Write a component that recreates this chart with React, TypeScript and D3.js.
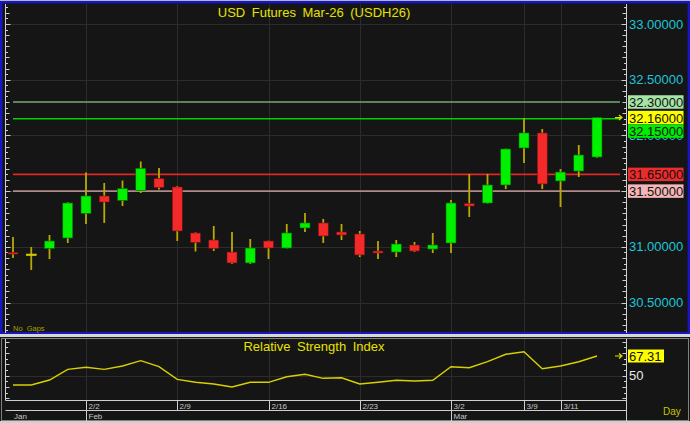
import React, { useEffect, useRef } from 'react'
import * as d3 from 'd3'

// trading days shown on the chart
const dates = [
    '1/27', '1/28', '1/29', '1/30',
    '2/2', '2/3', '2/4', '2/5', '2/6',
    '2/9', '2/10', '2/11', '2/12', '2/13',
    '2/16', '2/17', '2/18', '2/19', '2/20',
    '2/23', '2/24', '2/25', '2/26', '2/27',
    '3/2', '3/3', '3/4', '3/5',
    '3/9', '3/10', '3/11', '3/12', '3/13',
]

const opens = [30.949, 30.935, 30.985, 31.079, 31.299, 31.456, 31.416, 31.505, 31.613, 31.537, 31.124, 31.061, 30.953, 30.855, 31.052, 30.989, 31.169, 31.214, 31.133, 31.115, 30.962, 30.953, 31.016, 30.980, 31.034, 31.389, 31.393, 31.555, 31.887, 32.022, 31.591, 31.680, 31.806]
const highs = [31.088, 30.998, 31.106, 31.400, 31.667, 31.573, 31.595, 31.766, 31.707, 31.546, 31.130, 31.187, 31.133, 31.070, 31.056, 31.205, 31.303, 31.250, 31.205, 31.142, 31.052, 31.061, 31.043, 31.124, 31.420, 31.654, 31.654, 31.882, 32.156, 32.057, 31.698, 31.914, 32.160]
const lows = [30.900, 30.792, 30.890, 31.034, 31.205, 31.214, 31.366, 31.483, 31.514, 31.052, 30.958, 30.962, 30.846, 30.846, 30.890, 30.985, 31.133, 31.034, 31.061, 30.908, 30.890, 30.908, 30.953, 30.944, 30.944, 31.268, 31.389, 31.519, 31.752, 31.519, 31.357, 31.627, 31.800]
const closes = [30.935, 30.935, 31.052, 31.393, 31.456, 31.402, 31.523, 31.705, 31.532, 31.142, 31.039, 30.985, 30.855, 30.989, 30.989, 31.124, 31.214, 31.097, 31.106, 30.927, 30.944, 31.025, 30.962, 31.016, 31.393, 31.366, 31.555, 31.878, 32.022, 31.564, 31.671, 31.824, 32.160]

const rsiValues = [41.8, 41.8, 46.2, 55.6, 57.4, 55.6, 58.5, 63.2, 57.9, 46.8, 44.2, 42.7, 40.1, 44.2, 44.2, 49.1, 51.2, 47.7, 48.2, 42.7, 44.2, 46.0, 45.3, 46.0, 57.9, 57.0, 62.3, 68.8, 71.1, 56.2, 58.5, 62.3, 67.31]

const dateTicks = ['2/2', '2/9', '2/16', '2/23', '3/2', '3/9', '3/11']
const monthLabels = ['Jan', 'Feb', 'Mar']
const monthStarts = ['1/27', '2/2', '3/2']

const priceLabels = [33, 32.5, 32, 31.5, 31, 30.5]
const levelValues = [32.3, 32.15, 31.65, 31.5]
const levelLineColors = ['#76a876', '#00d400', '#e02626', '#b08a8a']
const levelBoxColors = ['#a6e4a6', '#00ec00', '#ec2c2c', '#f4b6b6']
const lastPrice = 32.16
const lastRsi = 67.31

const W = 690
const H = 423
const FONT = '"Liberation Sans", Arial, sans-serif'

function App() {
    const ref = useRef<SVGSVGElement>(null)

    useEffect(() => {
        const svg = d3.select(ref.current)
        svg.selectAll('*').remove()

        const x = d3.scalePoint<string>().domain(dates).range([13, 597])
        const y = d3.scaleLinear().domain([30.5, 33]).range([302.5, 24])
        const yr = d3.scaleLinear().domain([50, lastRsi]).range([375.7, 356])

        const left = 5.5, right = 626.5
        const mainTop = 4, mainBottom = 333
        const rsiTop = 338, rsiBottom = 400.5

        // background & frames
        svg.append('rect').attr('width', W).attr('height', H).attr('fill', '#151515')
        svg.append('rect').attr('x', 0).attr('y', 0).attr('width', W).attr('height', 1.5).attr('fill', '#b4b4d4')
        svg.append('rect').attr('x', 1.2).attr('y', 2.2).attr('width', W - 2.4).attr('height', 331)
            .attr('fill', 'none').attr('stroke', '#1616c4').attr('stroke-width', 2.4)
        svg.append('rect').attr('x', 0).attr('y', 334).attr('width', W).attr('height', 3).attr('fill', '#d6d6d6')
        svg.append('rect').attr('x', 1.5).attr('y', 338.5).attr('width', W - 3).attr('height', 82)
            .attr('fill', 'none').attr('stroke', '#808080')
        svg.append('rect').attr('x', 0).attr('y', 421).attr('width', W).attr('height', 2).attr('fill', '#cfcfcf')

        const g = svg.append('g')

        // grid
        const grid = g.append('g').attr('stroke', '#2c2c2c').attr('stroke-width', 1)
        priceLabels.forEach(p => {
            grid.append('line').attr('x1', left).attr('x2', right)
                .attr('y1', Math.round(y(p)) + 0.5).attr('y2', Math.round(y(p)) + 0.5)
        })
        grid.append('line').attr('x1', left).attr('x2', right)
            .attr('y1', Math.round(yr(50)) + 0.5).attr('y2', Math.round(yr(50)) + 0.5)
        dateTicks.forEach(d => {
            const xx = Math.round(x(d)!) + 0.5
            grid.append('line').attr('x1', xx).attr('x2', xx).attr('y1', mainTop).attr('y2', mainBottom)
            grid.append('line').attr('x1', xx).attr('x2', xx).attr('y1', rsiTop + 1).attr('y2', rsiBottom)
        })

        // axes lines
        const ax = g.append('g').attr('stroke', '#cfcfcf').attr('stroke-width', 1)
        ax.append('line').attr('x1', left).attr('x2', left).attr('y1', mainTop).attr('y2', mainBottom)
        ax.append('line').attr('x1', right).attr('x2', right).attr('y1', mainTop).attr('y2', mainBottom)
        ax.append('line').attr('x1', left).attr('x2', left).attr('y1', rsiTop + 1).attr('y2', rsiBottom)
        ax.append('line').attr('x1', right).attr('x2', right).attr('y1', rsiTop + 1).attr('y2', 421)
        ax.append('line').attr('x1', left).attr('x2', right).attr('y1', rsiBottom).attr('y2', rsiBottom)
        ax.append('line').attr('x1', left).attr('x2', right).attr('y1', 410.5).attr('y2', 410.5)

        // price ticks every 0.05
        d3.range(0, 80).map(k => 30 + k * 0.05).forEach(v => {
            const yy = Math.round(y(v)) + 0.5
            if (yy < mainTop + 2 || yy > mainBottom - 2) return
            const k = Math.round(v * 100)
            const len = k % 50 === 0 ? 5 : k % 10 === 0 ? 4 : 2.5
            ax.append('line').attr('x1', left).attr('x2', left + len).attr('y1', yy).attr('y2', yy)
            ax.append('line').attr('x1', right).attr('x2', right - len).attr('y1', yy).attr('y2', yy)
        })
        // rsi ticks every 5
        d3.range(20, 95, 5).forEach(v => {
            const yy = Math.round(yr(v)) + 0.5
            if (yy < rsiTop + 3 || yy > rsiBottom - 2) return
            const len = v % 10 === 0 ? 4 : 2.5
            ax.append('line').attr('x1', left).attr('x2', left + len).attr('y1', yy).attr('y2', yy)
            ax.append('line').attr('x1', right).attr('x2', right - len).attr('y1', yy).attr('y2', yy)
        })

        // level lines
        levelValues.forEach((v, i) => {
            g.append('line').attr('x1', 13).attr('x2', 620)
                .attr('y1', y(v)).attr('y2', y(v))
                .attr('stroke', levelLineColors[i]).attr('stroke-width', 1.6)
        })

        // candles
        const bw = 10
        g.selectAll('.wick').data(dates).join('line').attr('class', 'wick')
            .attr('x1', d => x(d)!).attr('x2', d => x(d)!)
            .attr('y1', (d, i) => y(highs[i])).attr('y2', (d, i) => y(lows[i]))
            .attr('stroke', '#b8aa00').attr('stroke-width', 1.8)
        g.selectAll('.body').data(dates).join('rect').attr('class', 'body')
            .attr('x', d => x(d)! - bw / 2)
            .attr('width', bw)
            .attr('y', (d, i) => y(Math.max(opens[i], closes[i])))
            .attr('height', (d, i) => Math.max(1.6, Math.abs(y(opens[i]) - y(closes[i]))))
            .attr('fill', (d, i) => closes[i] > opens[i] ? '#00f000' : closes[i] < opens[i] ? '#f42a2a' : '#d8cc00')
            .attr('stroke', (d, i) => closes[i] > opens[i] ? '#006a00' : closes[i] < opens[i] ? '#701010' : '#d8cc00')
            .attr('stroke-width', 0.6)

        // last price arrow
        const arrow = (yy: number) => {
            g.append('path').attr('d', `M615,${yy} L621,${yy} M619,${yy - 2.5} L622,${yy} L619,${yy + 2.5}`)
                .attr('stroke', '#e8e000').attr('stroke-width', 1.2).attr('fill', 'none')
        }
        arrow(y(lastPrice))

        // right price labels
        priceLabels.forEach(p => {
            g.append('text').attr('x', 629).attr('y', y(p)).attr('dominant-baseline', 'central')
                .attr('font-family', FONT).attr('font-size', 13).attr('fill', '#1ec6d6')
                .text(p.toFixed(5))
        })

        // level boxes, stacked so they don't overlap
        const boxes = [
            { v: lastPrice, bg: '#ffff00' },
            ...levelValues.map((v, i) => ({ v, bg: levelBoxColors[i] })),
        ].sort((a, b) => b.v - a.v)
        let prevBottom = -Infinity
        const bh = 13.5
        boxes.forEach(b => {
            let top = y(b.v) - bh / 2
            if (top < prevBottom) top = prevBottom
            prevBottom = top + bh
            g.append('rect').attr('x', 628).attr('y', top).attr('width', 55.5).attr('height', bh).attr('fill', b.bg)
            g.append('text').attr('x', 629).attr('y', top + bh / 2 + 0.5).attr('dominant-baseline', 'central')
                .attr('font-family', FONT).attr('font-size', 13).attr('fill', '#111')
                .text(b.v.toFixed(5))
        })

        // title
        g.append('text').attr('x', 314).attr('y', 12).attr('text-anchor', 'middle').attr('dominant-baseline', 'central')
            .attr('font-family', FONT).attr('font-size', 13).attr('fill', '#e6e200').attr('word-spacing', 3)
            .text('USD Futures Mar-26 (USDH26)')
        g.append('text').attr('x', 13).attr('y', 328).attr('dominant-baseline', 'central')
            .attr('font-family', FONT).attr('font-size', 7.5).attr('fill', '#a8a000').attr('word-spacing', 2)
            .text('No Gaps')

        // rsi
        const line = d3.line<number>().x((d, i) => x(dates[i])!).y(d => yr(d))
        g.append('path').datum(rsiValues).attr('d', line)
            .attr('fill', 'none').attr('stroke', '#d8d000').attr('stroke-width', 1.4)
        g.append('text').attr('x', 314).attr('y', 346.5).attr('text-anchor', 'middle').attr('dominant-baseline', 'central')
            .attr('font-family', FONT).attr('font-size', 13).attr('fill', '#e6e200').attr('word-spacing', 3)
            .text('Relative Strength Index')
        arrow(yr(lastRsi))
        g.append('rect').attr('x', 628).attr('y', yr(lastRsi) - 6.5).attr('width', 36).attr('height', 13).attr('fill', '#ffff00')
        g.append('text').attr('x', 629).attr('y', yr(lastRsi) + 0.5).attr('dominant-baseline', 'central')
            .attr('font-family', FONT).attr('font-size', 13).attr('fill', '#111').text(lastRsi.toFixed(2))
        g.append('text').attr('x', 629).attr('y', yr(50)).attr('dominant-baseline', 'central')
            .attr('font-family', FONT).attr('font-size', 13).attr('fill', '#e8e8e8').text('50')

        // date axis
        dateTicks.forEach(d => {
            const xx = Math.round(x(d)!) + 0.5
            ax.append('line').attr('x1', xx).attr('x2', xx).attr('y1', rsiBottom).attr('y2', 410.5)
            g.append('text').attr('x', xx + 2).attr('y', 406).attr('dominant-baseline', 'central')
                .attr('font-family', FONT).attr('font-size', 8).attr('fill', '#c8c8c8').text(d)
        })
        monthLabels.forEach((m, i) => {
            const xx = Math.round(x(monthStarts[i])!) + 0.5
            if (i > 0) ax.append('line').attr('x1', xx).attr('x2', xx).attr('y1', 410.5).attr('y2', 421)
            g.append('text').attr('x', i > 0 ? xx + 2 : 14).attr('y', 416.5).attr('dominant-baseline', 'central')
                .attr('font-family', FONT).attr('font-size', 8).attr('fill', '#c8c8c8').text(m)
        })
        g.append('text').attr('x', 663).attr('y', 411.5).attr('dominant-baseline', 'central')
            .attr('font-family', FONT).attr('font-size', 10).attr('fill', '#c8c400').text('Day')
    }, [])

    return <svg ref={ref} width={W} height={H} style={{ position: 'absolute', left: 0, top: 0, display: 'block' }} />
}

export default App
